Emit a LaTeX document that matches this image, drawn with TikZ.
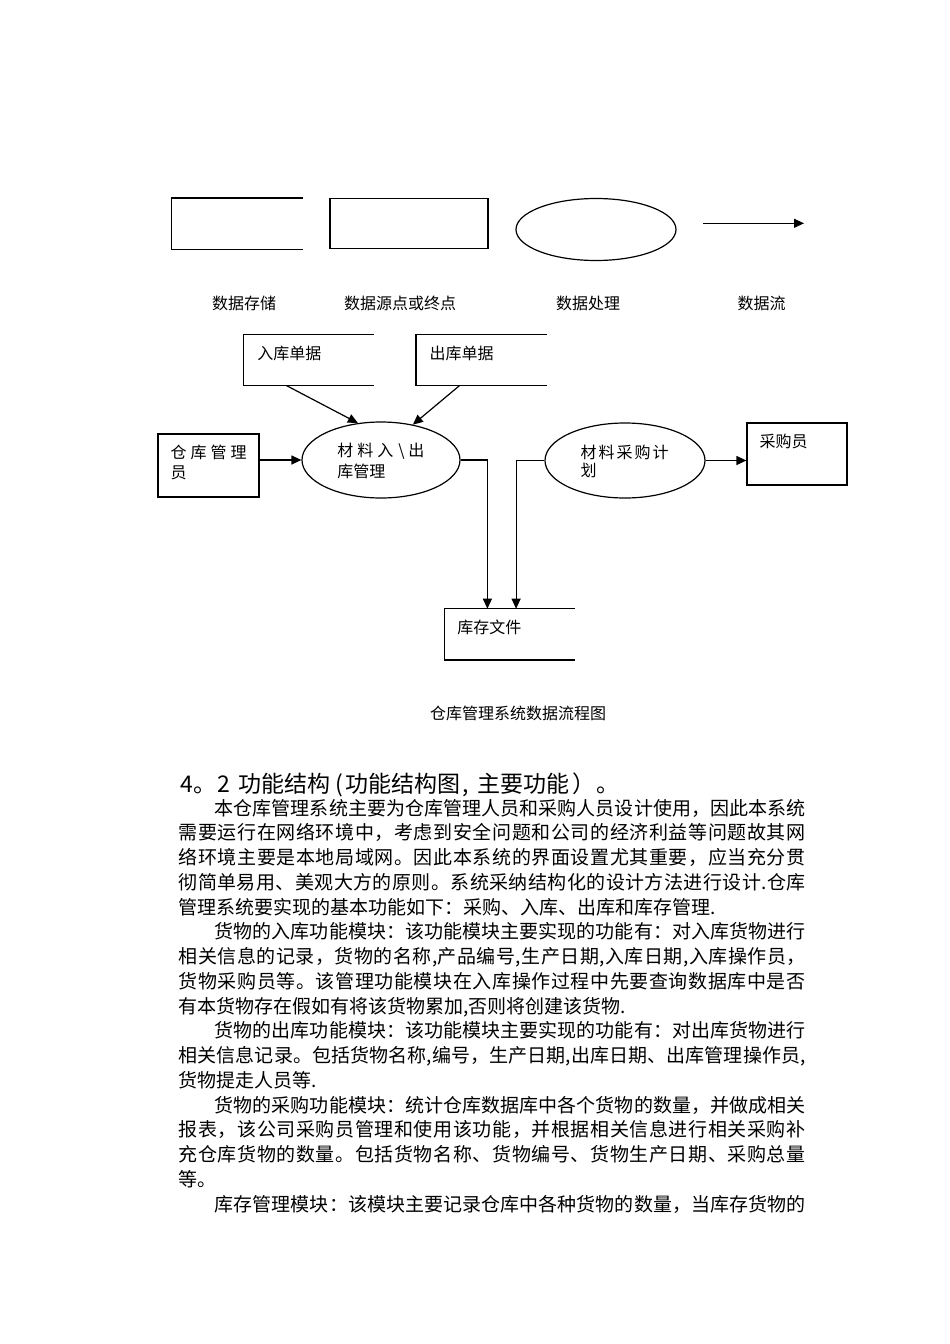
\documentclass[tikz,border=0pt]{standalone}
\usepackage{fontspec}
\setmainfont{Noto Sans CJK SC}
\usetikzlibrary{arrows.meta,shapes.geometric}
\makeatletter
\def\jst#1{\jst@b#1\@nil}
\def\jst@b#1{#1\jst@c}
\def\jst@c#1{\ifx#1\@nil\else\hfil#1\expandafter\jst@c\fi}
\makeatother
\newcommand\jline[2]{\hbox to #1{\jst{#2}}}
\newcommand\cb[1]{\makebox[20pt][l]{#1}}
\newcommand\cc[1]{\makebox[18pt][l]{#1}}
\begin{document}
\begin{tikzpicture}[x=1pt,y=-1pt,line width=1.2pt,
  store/.style={rectangle,inner sep=0},
  sbox/.style={draw,rectangle,inner sep=0},
  proc/.style={draw,ellipse,inner sep=0},
  arr/.style={-{Triangle[length=10pt,width=9pt]}},
  lbl/.style={inner sep=0,font=\fontsize{16}{16}\selectfont,anchor=base west},
  body/.style={inner sep=0,font=\fontsize{19}{19}\selectfont,anchor=base west},
  head/.style={inner sep=0,font=\fontsize{23}{23}\selectfont,anchor=base west}]
\useasboundingbox[fill=white] (0,0) rectangle (950,1344);

% ---------- legend ----------
\node[store,minimum width=130,minimum height=50] (lst) at (237,223.5) {};
\draw (lst.north east) -- (lst.north west) -- (lst.south west) -- (lst.south east);
\node[sbox,minimum width=158,minimum height=50] (lsrc) at (409,223.5) {};
\node[proc,minimum width=160,minimum height=62] (lproc) at (596,229.5) {};
\coordinate (lfa) at (703,223.3);
\coordinate (lfb) at (804,223.3);
\draw[arr] (lfa) -- (lfb);
\node[lbl,anchor=base] (tl1) at (244,309) {数据存储};
\node[lbl,anchor=base] (tl2) at (400,309) {数据源点或终点};
\node[lbl,anchor=base] (tl3) at (588,309) {数据处理};
\node[lbl,anchor=base] (tl4) at (761.5,309) {数据流};

% ---------- data flow diagram ----------
\node[store,minimum width=129,minimum height=50] (rk) at (308.5,360) {};
\draw (rk.north east) -- (rk.north west) -- (rk.south west) -- (rk.south east);
\node[store,minimum width=130,minimum height=50] (ck) at (481.5,360) {};
\draw (ck.north east) -- (ck.north west) -- (ck.south west) -- (ck.south east);
\node[sbox,minimum width=101,minimum height=63] (wm) at (208.5,465.5) {};
\node[proc,minimum width=158,minimum height=76] (p1) at (381,460) {};
\node[proc,minimum width=160,minimum height=75] (p2) at (625,460.5) {};
\node[sbox,minimum width=100,minimum height=62] (cg) at (797,454) {};
\node[store,minimum width=129,minimum height=50] (kc) at (509.5,634.3) {};
\draw (kc.north east) -- (kc.north west) -- (kc.south west) -- (kc.south east);

\node[lbl] (trk) at (256.7,359) {入库单据};
\node[lbl] (tck) at (429,359) {出库单据};
\node[lbl] (twm1) at (170,458) {\cb{仓}\cb{库}\cb{管}理};
\node[lbl] (twm2) at (170,478) {员};
\node[lbl] (tp1a) at (336.7,456) {\cb{材}\cb{料}\cb{入}\makebox[11pt][l]{\hspace{1pt}\textbackslash}出};
\node[lbl] (tp1b) at (336.7,477) {库管理};
\node[lbl] (tp2a) at (580,458) {\cc{材}\cc{料}\cc{采}\cc{购}计};
\node[lbl] (tp2b) at (580,476) {划};
\node[lbl] (tcg) at (759,447) {采购员};
\node[lbl] (tkc) at (456.7,633) {库存文件};

\draw[arr] (wm.east |- p1.west) -- (p1.west);
\draw[arr] ([xshift=-22pt]rk.south) -- (p1.122);
\draw[arr] ([xshift=-22pt]ck.south) -- (p1.48);
\draw[arr] (p1.east) -| ([xshift=43pt]kc.north west);
\draw[arr] (p2.west) -| ([xshift=71.7pt]kc.north west);
\draw[arr] (p2.east) -- (p2.east -| cg.west);

\node[lbl,anchor=base] (cap) at (518,719) {仓库管理系统数据流程图};

% ---------- text ----------
\node[head] (h) at (180,792) {\makebox[37pt][l]{4。}\makebox[21pt][l]{2}功能结构\makebox[15pt][l]{\hspace{5pt}(}功能结构图\makebox[17pt][l]{\hspace{2pt},}主要功能\makebox[27pt][l]{\hspace{3pt}）}。};

\node[body] (b1) at (214,815.2) {\jline{591pt}{本仓库管理系统主要为仓库管理人员和采购人员设计使用，因此本系统}};
\node[body] (b2) at (178,839.95) {\jline{627pt}{需要运行在网络环境中，考虑到安全问题和公司的经济利益等问题故其网}};
\node[body] (b3) at (178,864.7) {\jline{627pt}{络环境主要是本地局域网。因此本系统的界面设置尤其重要，应当充分贯}};
\node[body] (b4) at (178,889.45) {\jline{627pt}{彻简单易用、美观大方的原则。系统采纳结构化的设计方法进行设计.仓库}};
\node[body] (b5) at (178,914.2) {管理系统要实现的基本功能如下：采购、入库、出库和库存管理.};
\node[body] (b6) at (214,938.95) {\jline{591pt}{货物的入库功能模块：该功能模块主要实现的功能有：对入库货物进行}};
\node[body] (b7) at (178,963.7) {\jline{627pt}{相关信息的记录，货物的名称,产品编号,生产日期,入库日期,入库操作员，}};
\node[body] (b8) at (178,988.45) {\jline{627pt}{货物采购员等。该管理功能模块在入库操作过程中先要查询数据库中是否}};
\node[body] (b9) at (178,1013.2) {有本货物存在假如有将该货物累加,否则将创建该货物.};
\node[body] (b10) at (214,1037.95) {\jline{591pt}{货物的出库功能模块：该功能模块主要实现的功能有：对出库货物进行}};
\node[body] (b11) at (178,1062.7) {\jline{627pt}{相关信息记录。包括货物名称,编号，生产日期,出库日期、出库管理操作员,}};
\node[body] (b12) at (178,1087.45) {货物提走人员等.};
\node[body] (b13) at (214,1112.2) {\jline{591pt}{货物的采购功能模块：统计仓库数据库中各个货物的数量，并做成相关}};
\node[body] (b14) at (178,1136.95) {\jline{627pt}{报表，该公司采购员管理和使用该功能，并根据相关信息进行相关采购补}};
\node[body] (b15) at (178,1161.7) {\jline{627pt}{充仓库货物的数量。包括货物名称、货物编号、货物生产日期、采购总量}};
\node[body] (b16) at (178,1186.45) {等。};
\node[body] (b17) at (214,1211.2) {\jline{591pt}{库存管理模块：该模块主要记录仓库中各种货物的数量，当库存货物的}};
\end{tikzpicture}
\end{document}
